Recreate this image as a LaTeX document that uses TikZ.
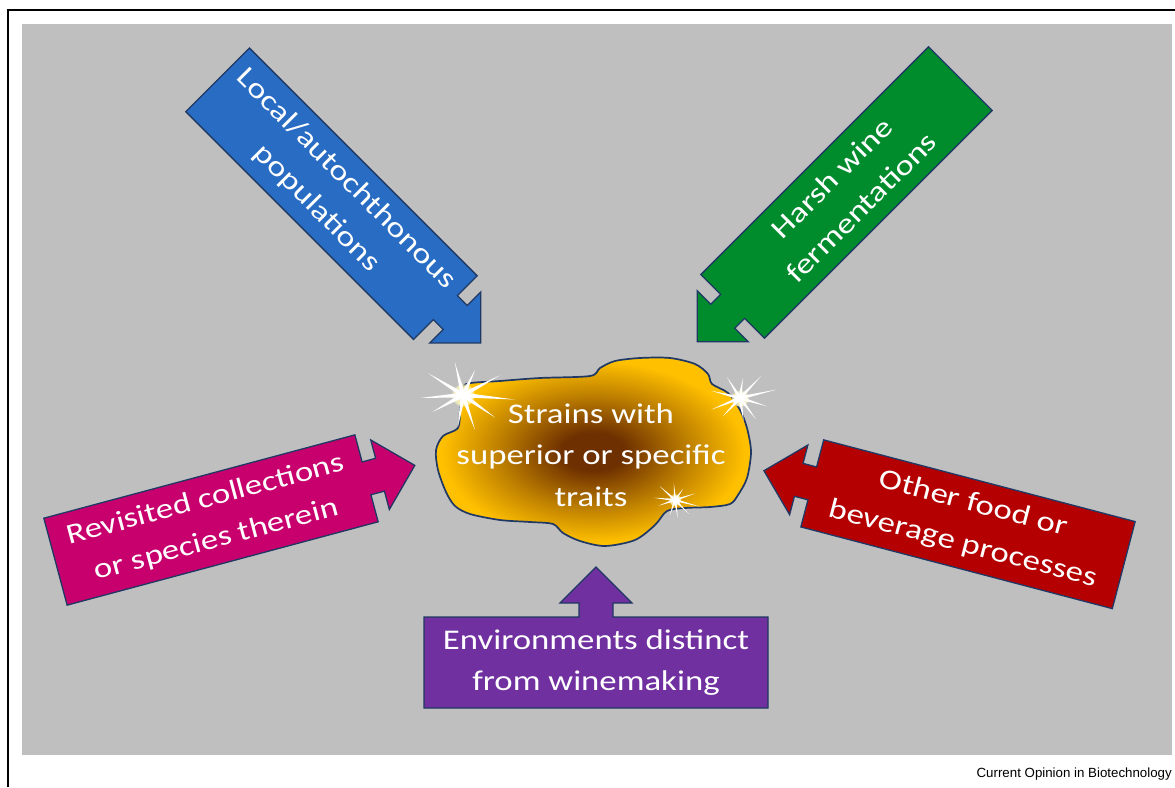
\documentclass[tikz,border=0pt]{standalone}
\usepackage{fontspec}
\usetikzlibrary{fadings}
\newfontfamily\labelfont[FakeStretch=1.22]{Carlito}
\newfontfamily\creditfont{Liberation Sans}

\definecolor{panelgray}{RGB}{191,191,191}
\definecolor{outlinenavy}{RGB}{32,56,100}
\definecolor{arrowblue}{RGB}{40,108,196}
\definecolor{arrowgreen}{RGB}{0,140,44}
\definecolor{arrowmagenta}{RGB}{200,0,110}
\definecolor{arrowred}{RGB}{180,0,0}
\definecolor{arrowpurple}{RGB}{112,48,160}
\definecolor{cloudgold}{RGB}{255,192,0}
\definecolor{cloudbrown}{RGB}{110,48,0}
\definecolor{sparkyellow}{RGB}{255,248,185}

\pgfdeclareradialshading{cloudglow}{\pgfpoint{0bp}{0bp}}{color(0bp)=(cloudbrown); color(5bp)=(cloudbrown); color(15bp)=(cloudbrown!45!cloudgold); color(24bp)=(cloudgold); color(50bp)=(cloudgold)}

\begin{document}
\begin{tikzpicture}[x=1pt,y=-1pt,
  armshape/.style={draw=outlinenavy, line width=1.3pt, line join=miter},
  armlabel/.style={text=white, align=center, font={\labelfont\fontsize{28.5}{41.5}\selectfont}}]
\useasboundingbox (0,0) rectangle (1175,787);
% The frame and the panel
\draw[line width=1.5pt] (8,787) -- (8,10) -- (1175,10);
\fill[panelgray] (22,24) rectangle (1172,755);

% The five arrows
\foreach \nm/\cx/\cy/\dir/\rot/\len/\wid/\col/\txt in {
  local/331.5/193.75/-45/-45/322/90/arrowblue/{Local/autochthonous\\populations},
  harsh/846.5/192.5/-135/45/322/90/arrowgreen/{Harsh wine\\fermentations},
  revisited/211/520/15/15/322/90/arrowmagenta/{Revisited collections\\or species therein},
  otherfood/968/524.25/165.3/-14.7/322/90/arrowred/{Other food or\\beverage processes},
  environments/596/662.5/90/0/91/344/arrowpurple/{Environments distinct\\from winemaking}}
{
  \begin{scope}[shift={(\cx,\cy)}, rotate=\dir]
    \draw[armshape, fill=\col] (-\len/2,-\wid/2) -- (\len/2,-\wid/2) -- (\len/2,-17)
      -- (\len/2+14,-17) -- (\len/2+14,-36) -- (\len/2+50,0) -- (\len/2+14,36)
      -- (\len/2+14,17) -- (\len/2,17) -- (\len/2,\wid/2) -- (-\len/2,\wid/2) -- cycle;
  \end{scope}
  \node[armlabel, rotate=\rot] (\nm) at (\cx,\cy) {\txt};
}

% The cloud
\shadedraw[shading=cloudglow, draw=outlinenavy, line width=1.7pt]
  plot[smooth cycle, tension=0.5] coordinates {
  (466,384) (500,381) (540,378) (590,376) (600,368) (615,361) (640,358) (670,358)
  (695,364) (708,374) (712,384) (728,393) (740,410) (747,428) (751,452) (747,478)
  (738,495) (730,504) (710,507) (685,508) (667,511) (655,525) (635,540) (605,546)
  (580,541) (563,533) (553,524) (530,522) (500,520) (470,514) (455,506) (446,492)
  (438,470) (436,450) (443,436) (458,428) (460,410) (462,395)};

% The sparkles
\foreach \sx/\sy/\sc/\sr in {463/395/1/0, 740/398/0.72/18, 675/500/0.5/-10}
{
  \begin{scope}[shift={(\sx,\sy)}, scale=\sc, rotate=\sr]
    \fill[sparkyellow, opacity=0.8, path fading=circle with fuzzy edge 20 percent] (0,0) circle (12);
    \foreach \ang/\ray in {176/43, -148/41, -104/34, -64/28, -28/42, 5/52, 35/39, 71/37, 99/32, 151/35}
      \fill[white] (\ang+90:2.4) -- (\ang:\ray) -- (\ang-90:2.4) -- cycle;
  \end{scope}
}

\node[armlabel] (strains) at (591,455) {Strains with\\superior or specific\\traits};

% The credit line
\node[anchor=base east, inner sep=0pt, font={\creditfont\fontsize{13.3}{16}\selectfont}] (credit) at (1172,777) {Current Opinion in Biotechnology};
\end{tikzpicture}
\end{document}
